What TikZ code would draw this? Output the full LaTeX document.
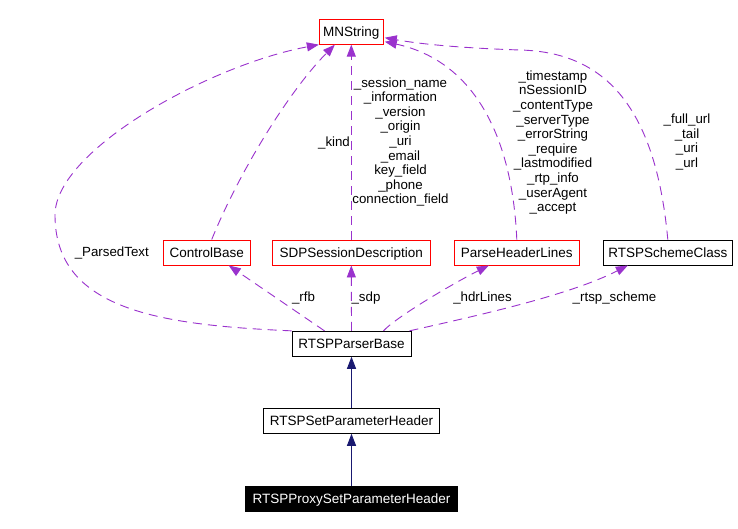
\documentclass[tikz,border=0pt]{standalone}
\usepackage{fontspec}
\setmainfont{Liberation Sans}
\usetikzlibrary{arrows.meta,calc}
\definecolor{edgepurple}{HTML}{9A32CD}
\definecolor{inhnavy}{HTML}{191970}
\begin{document}
\begin{tikzpicture}[x=1pt,y=-1pt,
  box/.style={draw=black,fill=white,line width=0.9pt,inner sep=0pt,minimum height=25pt,text height=9.7pt,text depth=0pt,font=\fontsize{13.5}{15}\selectfont},
  redbox/.style={box,draw=red},
  blackbox/.style={box,fill=black,text=white},
  uses/.style={draw=edgepurple,line width=0.9pt,dash pattern=on 9pt off 6pt,-{Triangle[length=12pt,width=9pt]}},
  inherit/.style={draw=inhnavy,line width=0.9pt,-{Triangle[length=12pt,width=9pt]}},
  lbl/.style={font=\fontsize{13.3}{14.6}\selectfont,align=center,inner sep=0pt}
]
\useasboundingbox[fill=white] (0,0) rectangle (738,528);

\node[redbox,minimum width=64pt] (mn) at (351.3,31.7) {MNString};
\node[redbox,minimum width=87pt] (cb) at (206.7,252.5) {ControlBase};
\node[redbox,minimum width=158pt] (sdp) at (351.3,252.5) {SDPSessionDescription};
\node[redbox,minimum width=125pt] (phl) at (516.8,252.5) {ParseHeaderLines};
\node[box,minimum width=129pt] (rsc) at (667.8,252.5) {RTSPSchemeClass};
\node[box,minimum width=119pt] (pb) at (351.5,343.8) {RTSPParserBase};
\node[box,minimum width=176.5pt] (spH) at (351.5,420.8) {RTSPSetParameterHeader};
\node[blackbox,minimum width=212pt] (pspH) at (351.5,498.7) {RTSPProxySetParameterHeader};

% uses edges to MNString
\draw[uses] (pb.north west) .. controls (160,325) and (55,310) .. (55,215)
  .. controls (55,150) and (210,65) .. (mn.south west);
\draw[uses] ($(cb.north)+(5,0)$) .. controls (240,170) and (290,90) .. ($(mn.south west)+(16,0)$);
\draw[uses] (sdp.north) -- (mn.south);
\draw[uses] (phl.north) .. controls (512,130) and (470,60) .. ($(mn.south east)+(1,-3)$);
\draw[uses] (rsc.north) .. controls (655,100) and (600,52) .. (520,50)
  .. controls (460,48) and (420,44) .. ($(mn.east)+(1,6)$);

% uses edges from RTSPParserBase
\draw[uses] ($(pb.north)+(-27,0)$) -- ($(cb.south)+(22,0)$);
\draw[uses] (pb.north) -- (sdp.south);
\draw[uses] ($(pb.north)+(32,0)$) .. controls (395,318) and (450,285) .. ($(phl.south)+(-28,0)$);
\draw[uses] ($(pb.north east)+(-2,0)$) .. controls (480,315) and (570,295) .. ($(rsc.south)+(-40,0)$);

% inheritance
\draw[inherit] (spH) -- (pb);
\draw[inherit] (pspH) -- (spH);

% labels
\node[lbl] (lParsed) at (111.8,252.7) {\_ParsedText};
\node[lbl] (lKind) at (334,143) {\_kind};
\node[lbl] (lSdpF) at (400.5,142) {\_session\_name\\\_information\\\_version\\\_origin\\\_uri\\\_email\\key\_field\\\_phone\\connection\_field};
\node[lbl] (lPhl) at (553,142.5) {\_timestamp\\nSessionID\\\_contentType\\\_serverType\\\_errorString\\\_require\\\_lastmodified\\\_rtp\_info\\\_userAgent\\\_accept};
\node[lbl] (lRsc) at (687,142) {\_full\_url\\\_tail\\\_uri\\\_url};
\node[lbl] (lRfb) at (303.5,298) {\_rfb};
\node[lbl] (lSdp) at (366,298) {\_sdp};
\node[lbl] (lHdr) at (482.5,298) {\_hdrLines};
\node[lbl] (lRts) at (614.5,298) {\_rtsp\_scheme};
\end{tikzpicture}
\end{document}
